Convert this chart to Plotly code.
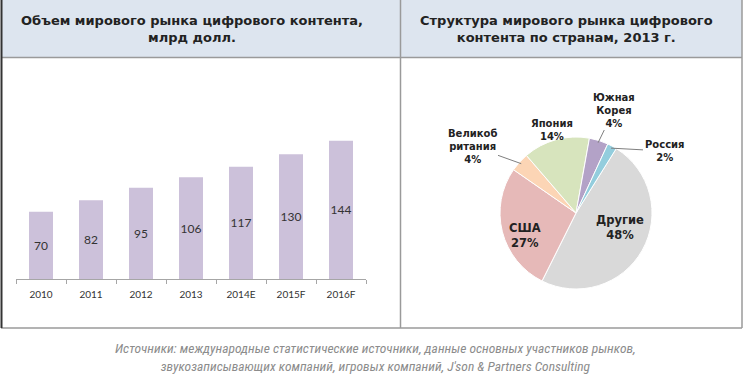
import math
import plotly.graph_objects as go

# ---- data ----
years = ["2010", "2011", "2012", "2013", "2014E", "2015F", "2016F"]
market_volume = [70, 82, 95, 106, 117, 130, 144]

countries = ["Другие", "США", "Великобритания", "Япония", "Южная Корея", "Россия"]
country_labels = ["Другие", "США", "Великоб<br>ритания", "Япония", "Южная<br>Корея", "Россия"]
country_share = [48, 27, 4, 14, 4, 2]

# ---- styling / layout (positions in pixels) ----
country_colors = ["#d9d9d9", "#e6b9b8", "#fcd5b5", "#d7e4bd", "#b3a2c7", "#93cddd"]
label_centers = [(620, 227), (525, 235), (472, 146), (552, 130), (614, 110), (664, 151)]
label_leader = [False, False, True, False, True, True]
label_sizes = [11.5, 11.5, 10, 10, 10, 10]

title_left = "Объем мирового рынка цифрового контента,<br>млрд долл."
title_right = "Структура мирового рынка цифрового<br>контента по странам, 2013 г."
source_text = ("Источники: международные статистические источники, данные основных участников рынков,<br>"
               "звукозаписывающих компаний, игровых компаний, J'son &amp; Partners Consulting")

W, H = 750, 381
def px(x):
    return x / W
def py(y):
    return 1 - y / H

PIE_CX, PIE_CY, PIE_R = 576, 213, 76
ROTATION = 32

fig = go.Figure()

fig.add_trace(go.Bar(
    x=years, y=market_volume,
    marker=dict(color="#ccc1da", line=dict(width=0)),
    text=[str(v) for v in market_volume],
    textposition="inside", insidetextanchor="middle", textangle=0, constraintext="none",
    textfont=dict(family="Lato, Open Sans, sans-serif", size=12, color="#333333"),
    xaxis="x", yaxis="y", showlegend=False, hoverinfo="x+y",
))

fig.add_trace(go.Pie(
    labels=countries, values=country_share,
    textinfo="none",
    sort=False, direction="clockwise", rotation=ROTATION,
    marker=dict(colors=country_colors, line=dict(color="white", width=1)),
    domain=dict(x=[px(PIE_CX - PIE_R), px(PIE_CX + PIE_R)],
                y=[py(PIE_CY + PIE_R), py(PIE_CY - PIE_R)]),
    showlegend=False, hoverinfo="label+value",
))

# slice labels, anchored on the slice mid-angles computed from the shares
annotations = []
total = sum(country_share)
start = ROTATION
for lab, val, (lx, ly), lead, fs in zip(country_labels, country_share, label_centers, label_leader, label_sizes):
    span = val / total * 360
    mid = math.radians(start + span / 2)
    start += span
    txt = "<b>%s<br>%d%%</b>" % (lab, val)
    font = dict(family="DejaVu Sans, Verdana, sans-serif", size=fs, color="#222222")
    if lead:
        rx = PIE_CX + PIE_R * 0.97 * math.sin(mid)
        ry = PIE_CY - PIE_R * 0.97 * math.cos(mid)
        annotations.append(dict(text=txt, xref="paper", yref="paper", x=px(rx), y=py(ry),
                                ax=lx - rx, ay=ly - ry, showarrow=True, arrowhead=0,
                                arrowwidth=1, arrowcolor="#7f7f7f", align="center", font=font))
    else:
        annotations.append(dict(text=txt, xref="paper", yref="paper", x=px(lx), y=py(ly),
                                xanchor="center", yanchor="middle", showarrow=False,
                                align="center", font=font))

annotations += [
    dict(text="<b>" + title_left + "</b>", xref="paper", yref="paper", x=px(192), y=py(29),
         xanchor="center", yanchor="middle", showarrow=False, align="center",
         font=dict(family="DejaVu Sans, Verdana, sans-serif", size=13, color="#222222")),
    dict(text="<b>" + title_right + "</b>", xref="paper", yref="paper", x=px(566), y=py(29),
         xanchor="center", yanchor="middle", showarrow=False, align="center",
         font=dict(family="DejaVu Sans, Verdana, sans-serif", size=13, color="#222222")),
    dict(text="<i>" + source_text + "</i>", xref="paper", yref="paper", x=px(375), y=py(357),
         xanchor="center", yanchor="middle", showarrow=False, align="center",
         font=dict(family="Liberation Sans Narrow, Roboto Condensed, sans-serif", size=13.5, color="#8c8c8c")),
]

fig.update_layout(
    width=W, height=H,
    margin=dict(l=0, r=0, t=0, b=0),
    paper_bgcolor="white", plot_bgcolor="white",
    bargap=0.52,
    xaxis=dict(domain=[px(16), px(366)], showgrid=False, showline=True, linecolor="#a6a6a6",
               ticks="outside", tickson="boundaries", ticklen=4, tickcolor="#a6a6a6",
               ticklabelstandoff=6,
               tickfont=dict(family="Lato, Open Sans, sans-serif", size=10, color="#333333"),
               anchor="y", fixedrange=True),
    yaxis=dict(domain=[py(279), py(135)], range=[0, 150], visible=False, fixedrange=True),
    shapes=[
        dict(type="rect", xref="paper", yref="paper", x0=px(1), x1=px(742), y0=py(57), y1=py(0),
             fillcolor="#dde5ef", line=dict(width=0), layer="below"),
        dict(type="line", xref="paper", yref="paper", x0=px(1), x1=px(742), y0=py(57.5), y1=py(57.5),
             line=dict(color="#9a9a9a", width=1.5)),
        dict(type="line", xref="paper", yref="paper", x0=px(1), x1=px(742), y0=py(328), y1=py(328),
             line=dict(color="#9a9a9a", width=1.5)),
        dict(type="line", xref="paper", yref="paper", x0=px(1.5), x1=px(1.5), y0=py(0), y1=py(328),
             line=dict(color="#333333", width=2)),
        dict(type="line", xref="paper", yref="paper", x0=px(400.5), x1=px(400.5), y0=py(0), y1=py(328),
             line=dict(color="#9a9a9a", width=1.5)),
        dict(type="line", xref="paper", yref="paper", x0=px(742), x1=px(742), y0=py(0), y1=py(328),
             line=dict(color="#9a9a9a", width=1.5)),
    ],
    annotations=annotations,
)

fig.write_html("out.html", config={"displayModeBar": False},
               post_script="document.body.style.margin='0';")
